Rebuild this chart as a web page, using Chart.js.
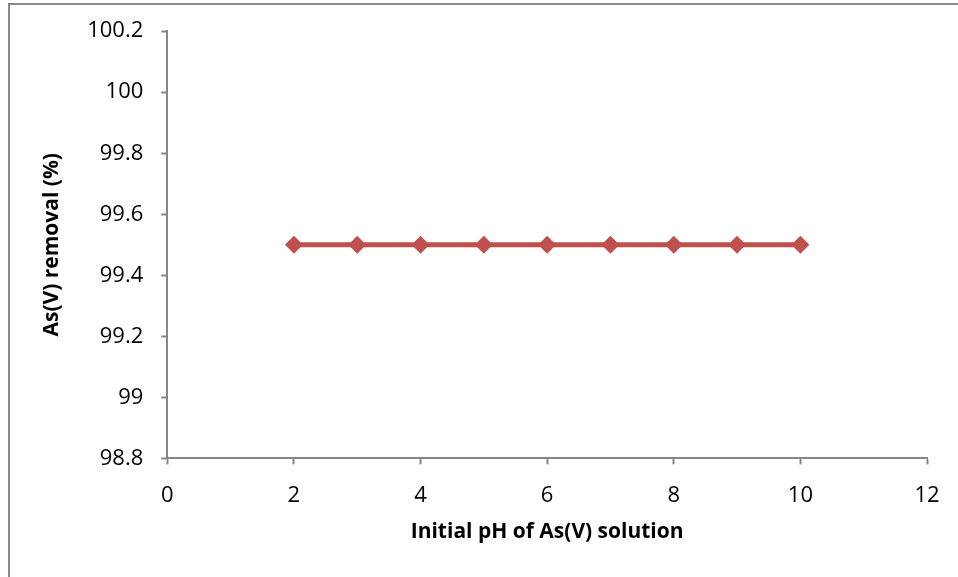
<!DOCTYPE html>
<html>
<head>
<meta charset="utf-8">
<script src="https://cdn.jsdelivr.net/npm/chart.js@4.4.0/dist/chart.umd.min.js"></script>
<style>
  html, body { margin: 0; padding: 0; background: #fff; }
  #wrap { position: relative; width: 958px; height: 577px; }
  #frame { position: absolute; left: 8px; top: 3px; right: 0; bottom: 0;
           border-left: 2px solid #8a8a8a; border-top: 2px solid #8a8a8a; }
  canvas { position: absolute; left: 0; top: 0; }
</style>
</head>
<body>
<div id="wrap">
  <div id="frame"></div>
  <canvas id="chart" width="958" height="577"></canvas>
</div>
<script>
// Initial pH vs As(V) removal
const phValues = [2, 3, 4, 5, 6, 7, 8, 9, 10];
const removal = [99.5, 99.5, 99.5, 99.5, 99.5, 99.5, 99.5, 99.5, 99.5];
const xTicks = [0, 2, 4, 6, 8, 10, 12];
const yTicks = [98.8, 99, 99.2, 99.4, 99.6, 99.8, 100, 100.2];

const axisGray = '#868686';
const lineRed = '#C0504D';
const tickFont = { family: "'Open Sans', 'Liberation Sans', sans-serif", size: 22 };
const titleFont = { family: "'Open Sans', 'Liberation Sans', sans-serif", size: 21, weight: 'bold' };

function createPhChart(canvasId) {
    const ctx = document.getElementById(canvasId);
    if (!ctx) return;
    return new Chart(ctx, {
        type: 'line',
        data: {
            datasets: [{
                data: phValues.map((x, i) => ({ x: x, y: removal[i] })),
                borderColor: lineRed,
                backgroundColor: lineRed,
                borderWidth: 5,
                pointStyle: 'rectRot',
                pointRadius: 9,
                pointHoverRadius: 9,
                pointBorderWidth: 0,
                tension: 0,
                fill: false,
            }]
        },
        options: {
            responsive: false,
            animation: false,
            layout: { padding: { left: 35, right: 31, top: 21, bottom: 32 } },
            plugins: {
                legend: { display: false },
                tooltip: { enabled: false }
            },
            scales: {
                x: {
                    type: 'linear',
                    min: xTicks[0],
                    max: xTicks[xTicks.length - 1],
                    afterBuildTicks: axis => { axis.ticks = xTicks.map(v => ({ value: v })); },
                    grid: { drawOnChartArea: false, color: axisGray, tickLength: 6, tickWidth: 2 },
                    border: { color: axisGray, width: 2 },
                    ticks: { color: '#000', font: tickFont, padding: 18, maxRotation: 0 },
                    title: { display: true, text: 'Initial pH of As(V) solution', color: '#000', font: titleFont, padding: { top: -7, bottom: 0 } }
                },
                y: {
                    min: yTicks[0],
                    max: yTicks[yTicks.length - 1],
                    afterBuildTicks: axis => { axis.ticks = yTicks.map(v => ({ value: v })); },
                    grid: { drawOnChartArea: false, color: axisGray, tickLength: 6, tickWidth: 2 },
                    border: { color: axisGray, width: 2 },
                    ticks: {
                        color: '#000', font: tickFont, padding: 18,
                        callback: v => String(Number(v.toFixed(1)))
                    },
                    title: { display: true, text: 'As(V) removal (%)', color: '#000', font: titleFont, padding: { bottom: 5 } }
                }
            }
        }
    });
}

createPhChart('chart');
</script>
</body>
</html>
